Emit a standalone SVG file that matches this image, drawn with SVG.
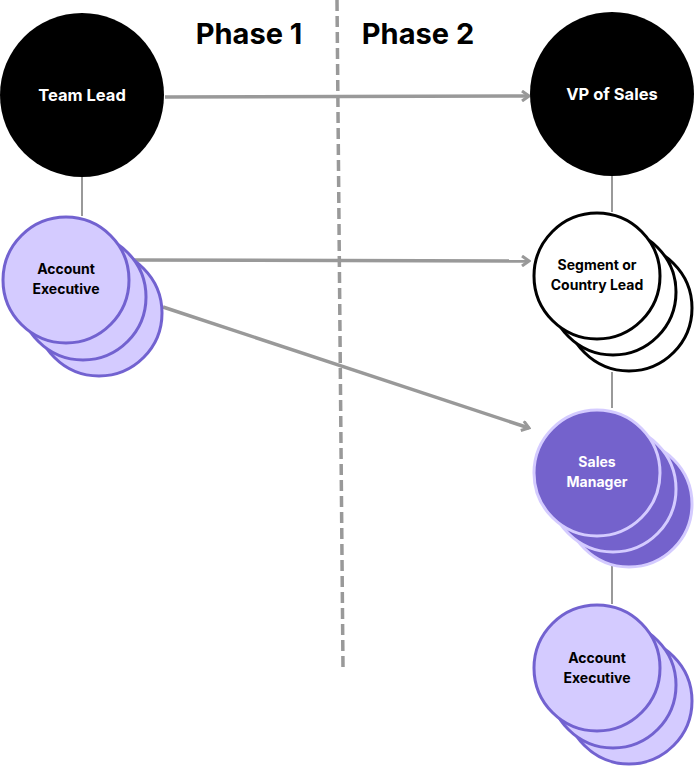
<svg xmlns="http://www.w3.org/2000/svg" width="695" height="767" viewBox="0 0 695 767">
<style>
.conn{stroke:#999999;stroke-width:3.5;fill:none}
.vline{stroke:#999999;stroke-width:2;fill:none}
.lbl{font-family:Inter,"Liberation Sans",sans-serif;font-weight:700;font-size:14px;text-anchor:middle}
.big{font-size:16.5px}
.phase{font-family:Inter,"Liberation Sans",sans-serif;font-weight:700;font-size:29px;text-anchor:middle;fill:#000}
.ae{fill:#d4cbff;stroke:#7262d0;stroke-width:3}
.seg{fill:#ffffff;stroke:#000000;stroke-width:3}
.sm{fill:#7462cc;stroke:#d4cbff;stroke-width:3}
</style>
<defs>
<marker id="arr" viewBox="0 0 12 12" refX="10" refY="6" markerWidth="12" markerHeight="12" markerUnits="userSpaceOnUse" orient="auto">
<path d="M3,1 L10,6 L3,11" fill="none" stroke="#999999" stroke-width="3" stroke-linejoin="miter"/>
</marker>
</defs>
<rect width="695" height="767" fill="#ffffff"/>
<g id="divider">
<line x1="337" y1="0" x2="343" y2="668" stroke="#999999" stroke-width="3.5" stroke-dasharray="11 5"/>
</g>
<g id="phase-labels">
<text class="phase" x="249" y="44">Phase 1</text>
<text class="phase" x="418" y="44">Phase 2</text>
</g>
<g id="connectors">
<line class="vline" x1="82" y1="177" x2="82" y2="216"/>
<line class="vline" x1="612" y1="176" x2="612" y2="212"/>
<line class="vline" x1="612" y1="372" x2="612" y2="408"/>
<line class="vline" x1="612" y1="566" x2="612" y2="604"/>
<line class="conn" x1="165" y1="97" x2="529" y2="96" marker-end="url(#arr)"/>
<line class="conn" x1="130" y1="260" x2="529" y2="261" marker-end="url(#arr)"/>
<line class="conn" x1="163" y1="307" x2="529" y2="428" marker-end="url(#arr)"/>
</g>
<g id="team-lead">
<circle cx="82" cy="95" r="82" fill="#000000"/>
<text class="lbl big" x="82" y="101" fill="#ffffff">Team Lead</text>
</g>
<g id="account-executive-1">
<circle class="ae" cx="99" cy="313" r="63"/>
<circle class="ae" cx="83" cy="297" r="63"/>
<circle class="ae" cx="66" cy="280" r="63"/>
<text class="lbl" x="66" y="274" fill="#000">Account</text>
<text class="lbl" x="66" y="294" fill="#000">Executive</text>
</g>
<g id="vp-of-sales">
<circle cx="612" cy="94" r="82" fill="#000000"/>
<text class="lbl big" x="612" y="100" fill="#ffffff">VP of Sales</text>
</g>
<g id="segment-lead">
<circle class="seg" cx="629" cy="308" r="63"/>
<circle class="seg" cx="613" cy="292" r="63"/>
<circle class="seg" cx="597" cy="276" r="63"/>
<text class="lbl" x="597" y="270" fill="#000">Segment or</text>
<text class="lbl" x="597" y="290" fill="#000">Country Lead</text>
</g>
<g id="sales-manager">
<circle class="sm" cx="629" cy="504" r="63"/>
<circle class="sm" cx="613" cy="489" r="63"/>
<circle class="sm" cx="597" cy="473" r="63"/>
<text class="lbl" x="597" y="467" fill="#ffffff">Sales</text>
<text class="lbl" x="597" y="487" fill="#ffffff">Manager</text>
</g>
<g id="account-executive-2">
<circle class="ae" cx="629" cy="701" r="63"/>
<circle class="ae" cx="613" cy="685" r="63"/>
<circle class="ae" cx="597" cy="668" r="63"/>
<text class="lbl" x="597" y="663" fill="#000">Account</text>
<text class="lbl" x="597" y="683" fill="#000">Executive</text>
</g>
</svg>
